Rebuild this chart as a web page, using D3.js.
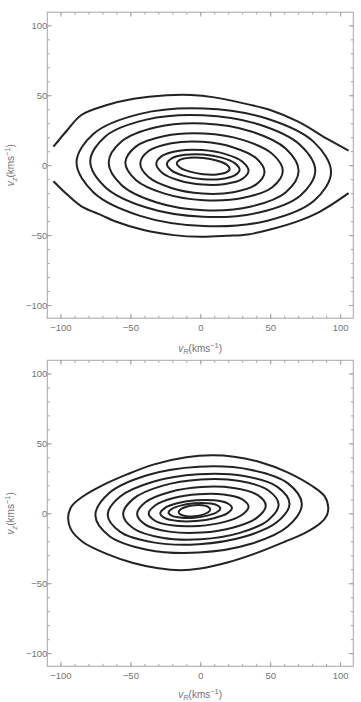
<!DOCTYPE html>
<html>
<head>
<meta charset="utf-8">
<script src="https://cdn.jsdelivr.net/npm/d3@7"></script>
<style>
  body { margin: 0; background: #fff; }
  .tick text { font-family: "Liberation Sans", Arial, sans-serif; font-size: 9.5px; fill: #737373; }
  .domain, .tick line { stroke: #a6a6a6; }
  .contour { fill: none; stroke: #222; stroke-width: 2; stroke-linejoin: round; }
  .axis-title { font-family: "Liberation Sans", Arial, sans-serif; font-size: 10px; fill: #737373; }
</style>
</head>
<body>
<svg id="chart" width="361" height="702"></svg>
<script>
const majorTicks = [-100, -50, 0, 50, 100];
const minorTicks = [-100, -90, -80, -70, -60, -50, -40, -30, -20, -10, 0,
  10, 20, 30, 40, 50, 60, 70, 80, 90, 100];

// top panel: outermost level leaves the sampled region, so it is two open arcs
const topOuterUpper = [[-105, 13.2], [-95.2, 25], [-85, 35.9], [-66.7, 43], [-47.6, 47.5],
  [-23.8, 50], [-6.5, 50.2], [10, 48.5], [34.2, 43.5], [50, 39.5], [70, 31.1], [90.5, 19], [106, 10.5]];
const topOuterLower = [[-105, -11.5], [-95.2, -21], [-85, -29.4], [-70, -36], [-61, -40.1],
  [-40.5, -46.4], [-19, -50], [0, -51.2], [19, -50.5], [34, -49.5], [50, -46], [70, -40],
  [85, -33.5], [95, -27.5], [106, -20]];

const topContours = [
  [[93.5, -5], [81.3, 16.5], [48, 33.2], [2.5, 40.5], [-43, 36.7], [-76.3, 22.5],
   [-88.5, 2], [-76.3, -19.5], [-43, -36.2], [2.5, -43.5], [48, -39.7], [81.3, -25.5]],
  [[82.2, -4.1], [71.4, 14.5], [42, 29.1], [1.8, 35.7], [-38.5, 32.6], [-67.9, 20.6],
   [-78.7, 2.9], [-67.9, -15.7], [-38.5, -30.3], [1.8, -36.9], [42, -33.8], [71.4, -21.8]],
  [[70.3, -4.2], [61.2, 11.7], [36.4, 24.1], [2.4, 29.8], [-31.6, 27.1], [-56.4, 16.9],
   [-65.5, 1.8], [-56.4, -14.1], [-31.6, -26.5], [2.4, -32.2], [36.4, -29.5], [61.2, -19.3]],
  [[59, -4.2], [51.5, 8.1], [30.9, 17.9], [2.7, 22.6], [-25.5, 20.9], [-46.1, 13.3],
   [-53.6, 1.8], [-46.1, -10.5], [-25.5, -20.3], [2.7, -25], [30.9, -23.3], [51.5, -15.7]],
  [[45.9, -4.8], [40, 4.9], [23.7, 12.7], [1.5, 16.7], [-20.7, 15.7], [-37, 10.1],
   [-42.9, 1.2], [-37, -8.5], [-20.7, -16.3], [1.5, -20.3], [23.7, -19.3], [40, -13.7]],
  [[34.5, -4], [30.1, 2.5], [18, 7.9], [1.5, 10.8], [-15, 10.4], [-27.1, 6.8],
   [-31.5, 1], [-27.1, -5.5], [-15, -10.9], [1.5, -13.8], [18, -13.4], [30.1, -9.8]],
  [[28.1, -3.2], [24.6, 1.5], [15.1, 5.4], [2.1, 7.6], [-10.9, 7.4], [-20.4, 4.9],
   [-23.9, 0.8], [-20.4, -3.9], [-10.9, -7.8], [2.1, -10], [15.1, -9.8], [24.6, -7.3]],
  [[21, -2.6], [18.5, 0.6], [11.6, 3.4], [2.1, 5.2], [-7.4, 5.4], [-14.3, 4],
   [-16.8, 1.4], [-14.3, -1.8], [-7.4, -4.6], [2.1, -6.4], [11.6, -6.6], [18.5, -5.2]]
];

const bottomContours = [
  [[91.5, 4], [89, 12], [80, 19.5], [62, 29.5], [43, 36.5], [24, 40.5], [8, 41.5],
   [-10, 40], [-33, 35], [-52, 28], [-70, 20], [-84, 12], [-92, 5], [-94.5, -3],
   [-92.5, -11.5], [-84, -20.5], [-67, -29], [-48, -35.5], [-30, -39.3], [-14, -40.7],
   [0, -39.5], [20, -35], [40, -28.5], [60, -20.5], [76, -13.5], [86, -7], [90.5, -1.5]],
  [[72.6, 6.6], [62.7, 21.4], [35.7, 31.2], [-1.2, 33.3], [-38.1, 27.2], [-65.1, 14.5],
   [-75, -1.4], [-65.1, -16.2], [-38.1, -26], [-1.2, -28.1], [35.7, -22], [62.7, -9.3]],
  [[63.8, 6.9], [55.1, 18.9], [31.3, 26.6], [-1.2, 27.9], [-33.7, 22.6], [-57.5, 11.9],
   [-66.2, -1.1], [-57.5, -13.1], [-33.7, -20.8], [-1.2, -22.1], [31.3, -16.8], [55.1, -6.1]],
  [[56, 6.3], [48.5, 16.5], [28.2, 23.1], [0.4, 24.2], [-27.4, 19.6], [-47.7, 10.5],
   [-55.2, -0.7], [-47.7, -10.9], [-27.4, -17.5], [0.4, -18.6], [28.2, -14], [48.5, -4.9]],
  [[46.8, 5.5], [40.6, 13.3], [23.8, 18.1], [0.8, 18.8], [-22.2, 15.1], [-39, 8.1],
   [-45.2, -0.5], [-39, -8.3], [-22.2, -13.1], [0.8, -13.8], [23.8, -10.1], [40.6, -3.1]],
  [[34.5, 4.8], [29.7, 10.1], [16.7, 13.4], [-1.2, 13.6], [-19.1, 10.9], [-32.1, 5.8],
   [-36.9, -0.2], [-32.1, -5.5], [-19.1, -8.8], [-1.2, -9], [16.7, -6.3], [29.7, -1.2]],
  [[22.6, 3.9], [19.2, 7.3], [9.8, 9.3], [-3, 9.3], [-15.8, 7.3], [-25.2, 3.9],
   [-28.6, -0.1], [-25.2, -3.5], [-15.8, -5.5], [-3, -5.5], [9.8, -3.5], [19.2, -0.1]],
  [[14.3, 3.5], [11.8, 5.85], [5.05, 7.15], [-4.2, 7.1], [-13.45, 5.65], [-20.2, 3.25],
   [-22.7, 0.5], [-20.2, -1.85], [-13.45, -3.15], [-4.2, -3.1], [5.05, -1.65], [11.8, 0.75]],
  [[7.1, 2.8], [5.6, 4.6], [1.45, 5.7], [-4.2, 5.7], [-9.85, 4.7], [-14, 2.9],
   [-15.5, 0.8], [-14, -1], [-9.85, -2.1], [-4.2, -2.1], [1.45, -1.1], [5.6, 0.7]]
];

const svg = d3.select('#chart');
const domain = [-109.4, 109.4];
const x = d3.scaleLinear().domain(domain).range([47.3, 353.3]);

function addAxisTitle(g, tx, ty, rotate, sub) {
  const t = g.append('text')
    .attr('class', 'axis-title')
    .attr('text-anchor', 'middle')
    .attr('transform', `translate(${tx},${ty})${rotate ? ' rotate(-90)' : ''}`);
  t.append('tspan').attr('font-style', 'italic').text('v');
  t.append('tspan').attr('font-style', 'italic').attr('font-size', '7.5px').attr('dy', 2.5).text(sub);
  t.append('tspan').attr('dy', -2.5).text('(kms');
  t.append('tspan').attr('font-size', '7.5px').attr('dy', -4).text('\u22121');
  t.append('tspan').attr('dy', 4).text(')');
}

function drawPanel(yRange, contours, openArcs, titleY) {
  const y = d3.scaleLinear().domain(domain).range(yRange);
  const g = svg.append('g');
  const top = yRange[1];
  const bottom = yRange[0];

  const axes = [
    [() => d3.axisBottom(x), `translate(0,${bottom})`, true],
    [() => d3.axisTop(x), `translate(0,${top})`, false],
    [() => d3.axisLeft(y), `translate(${x.range()[0]},0)`, true],
    [() => d3.axisRight(y), `translate(${x.range()[1]},0)`, false]
  ];
  axes.forEach(([make, tr, labels]) => {
    // minor ticks every 10, major every 50, all pointing inward
    g.append('g').attr('transform', tr)
      .call(make().tickValues(minorTicks).tickSizeInner(-2.5).tickSizeOuter(0).tickFormat(''))
      .select('.domain').remove();
    g.append('g').attr('transform', tr)
      .call(make().tickValues(majorTicks).tickSizeInner(-4.5).tickSizeOuter(0)
        .tickPadding(0).tickFormat(labels ? d3.format('') : ''))
      .select('.domain').remove();
  });

  g.append('rect')
    .attr('x', x.range()[0]).attr('y', top)
    .attr('width', x.range()[1] - x.range()[0]).attr('height', bottom - top)
    .attr('fill', 'none').attr('stroke', '#a6a6a6');

  g.selectAll('.tick text').each(function () {
    const t = d3.select(this);
    if (t.attr('x') !== null && +t.attr('x') < 0) t.attr('x', -3.5);
    if (t.attr('dy') === '0.71em') t.attr('y', 6.4);
  });

  const closed = d3.line().x(d => x(d[0])).y(d => y(d[1])).curve(d3.curveCatmullRomClosed.alpha(0.5));
  const open = d3.line().x(d => x(d[0])).y(d => y(d[1])).curve(d3.curveCatmullRom.alpha(0.5));

  g.selectAll('.closed').data(contours).enter()
    .append('path').attr('class', 'contour').attr('d', closed);
  g.selectAll('.open').data(openArcs).enter()
    .append('path').attr('class', 'contour').attr('d', open);

  addAxisTitle(g, 200.15, titleY, false, 'R');
  addAxisTitle(g, 14, y(0), true, 'z');
}

drawPanel([318.2, 12.2], topContours, [topOuterUpper, topOuterLower], 351.7);
drawPanel([666.3, 360.3], bottomContours, [], 697.5);
</script>
</body>
</html>
